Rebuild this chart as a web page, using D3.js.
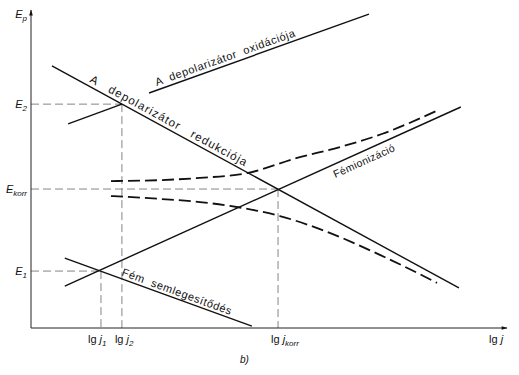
<!DOCTYPE html>
<html><head><meta charset="utf-8">
<script src="https://cdn.jsdelivr.net/npm/d3@7"></script>
<style>
html,body{margin:0;padding:0;background:#fff;}
svg{display:block;font-family:"Liberation Sans",Arial,sans-serif;}
text{fill:#111;}
</style></head>
<body>
<svg id="chart" width="519" height="375"></svg>
<script>
// ---- data (arbitrary units) ----
const reduction      = [[0.44, 8.24], [8.99, 1.26]];   // A depolarizátor redukciója
const oxidation      = [[2.48, 7.39], [7.10, 9.87]];   // A depolarizátor oxidációja
const oxidationLow   = [[0.78, 6.42], [1.91, 7.04]];
const ionization     = [[0.71, 1.32], [9.03, 6.95]];   // Fémionizáció
const neutralization = [[0.71, 2.20], [4.64, 0.06]];   // Fém semlegesítődés
const upperCurveX = [1.68, 2.71, 3.55, 4.54, 5.59, 6.49, 7.37, 8.51];
const upperCurveY = [4.62, 4.65, 4.72, 4.87, 5.35, 5.69, 6.10, 6.82];
const lowerCurveX = [1.68, 2.71, 3.55, 4.18, 5.23, 6.07, 7.33, 8.53];
const lowerCurveY = [4.15, 4.06, 3.96, 3.84, 3.52, 3.11, 2.30, 1.42];
const xLevelNames = ["1", "2", "korr"];
const xLevels     = [1.47, 1.91, 5.19];
const yLevelNames = ["1", "2", "korr"];
const yLevels     = [1.79, 7.04, 4.37];

const svg = d3.select("#chart");
const x = d3.scaleLinear().domain([0, 10]).range([31, 507]);
const y = d3.scaleLinear().domain([0, 10]).range([328, 10]);

// guide dashed lines
const guides = svg.append("g").attr("stroke", "#777").attr("stroke-width", 0.9)
  .attr("stroke-dasharray", "8,4").attr("fill", "none");
xLevels.forEach((xv, i) => {
  const yv = yLevels[i];
  guides.append("line").attr("x1", x(0)).attr("x2", x(xv)).attr("y1", y(yv)).attr("y2", y(yv));
  guides.append("line").attr("x1", x(xv)).attr("x2", x(xv)).attr("y1", y(yv)).attr("y2", y(0));
});

// axes
svg.append("defs").append("marker").attr("id", "arr").attr("viewBox", "0 0 10 10")
  .attr("refX", 9).attr("refY", 5).attr("markerWidth", 7).attr("markerHeight", 6)
  .attr("orient", "auto").attr("markerUnits", "userSpaceOnUse")
  .append("path").attr("d", "M0,2 L10,5 L0,8 Z").attr("fill", "#111");
svg.append("line").attr("x1", x(0)).attr("x2", x(10)).attr("y1", y(0)).attr("y2", y(0))
  .attr("stroke", "#222").attr("stroke-width", 1).attr("marker-end", "url(#arr)");
svg.append("line").attr("x1", x(0)).attr("x2", x(0)).attr("y1", y(0)).attr("y2", y(10))
  .attr("stroke", "#222").attr("stroke-width", 1).attr("marker-end", "url(#arr)");

// straight lines
const line = d3.line().x(d => x(d[0])).y(d => y(d[1]));
[reduction, oxidation, oxidationLow, ionization, neutralization].forEach(l => {
  svg.append("path").attr("d", line(l)).attr("fill", "none")
    .attr("stroke", "#111").attr("stroke-width", 1.4);
});

// dashed curves
const curve = d3.line().x(d => x(d[0])).y(d => y(d[1])).curve(d3.curveMonotoneX);
[[upperCurveX, upperCurveY], [lowerCurveX, lowerCurveY]].forEach(([xs, ys]) => {
  svg.append("path").attr("d", curve(xs.map((v, i) => [v, ys[i]])))
    .attr("fill", "none").attr("stroke", "#111").attr("stroke-width", 1.8)
    .attr("stroke-dasharray", "12,5");
});

// labels along lines
function along(l, xv, offset, str, size, spacing) {
  const x0 = x(l[0][0]), y0 = y(l[0][1]), x1 = x(l[1][0]), y1 = y(l[1][1]);
  const ang = Math.atan2(y1 - y0, x1 - x0);
  const t = (xv - l[0][0]) / (l[1][0] - l[0][0]);
  const px = x0 + t * (x1 - x0), py = y0 + t * (y1 - y0);
  const ox = -Math.sin(ang) * offset, oy = Math.cos(ang) * offset;
  svg.append("text").attr("transform", `translate(${px + ox},${py + oy}) rotate(${ang * 180 / Math.PI})`)
    .attr("font-size", size).attr("letter-spacing", spacing).style("white-space", "pre").text(str);
}
along(reduction, 1.18, -4, "A   depolarizátor   redukciója", 11.5, 1.1);
along(oxidation, 2.67, -4, "A  depolarizátor  oxidációja", 11, 0.6);
along(ionization, 6.28, 13, "Fémionizáció", 10.5, 0.4);
along(neutralization, 1.87, -3, "Fém  semlegesítődés", 11, 0.6);

// y labels
function eLabel(px, py, sub, anchor) {
  const t = svg.append("text").attr("x", px).attr("y", py).attr("font-size", 11).attr("text-anchor", anchor);
  t.append("tspan").attr("font-style", "italic").text("E");
  t.append("tspan").attr("font-size", 8).attr("dy", 3).attr("font-style", "italic").text(sub);
}
eLabel(27, 18, "p", "end");
yLevels.forEach((v, i) => eLabel(27, y(v) + 4, yLevelNames[i], "end"));

// x labels
function jLabel(px, py, sub) {
  const t = svg.append("text").attr("x", px).attr("y", py).attr("font-size", 11);
  t.append("tspan").text("lg ");
  t.append("tspan").attr("font-style", "italic").text("j");
  if (sub) t.append("tspan").attr("font-size", 8).attr("dy", 3).attr("font-style", "italic").text(sub);
}
const xLabelOffsets = [-13, -7, -7];
xLevels.forEach((v, i) => jLabel(x(v) + xLabelOffsets[i], y(0) + 15, xLevelNames[i]));
jLabel(489, y(0) + 15, "");

svg.append("text").attr("x", 240).attr("y", 363).attr("font-size", 10)
  .attr("font-style", "italic").text("b)");
</script>
</body></html>
